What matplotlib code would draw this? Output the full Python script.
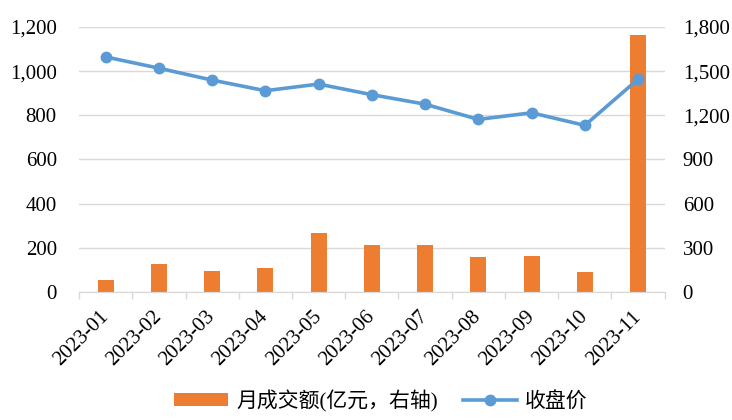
import numpy as np
import matplotlib.pyplot as plt
from matplotlib.ticker import FuncFormatter, FixedLocator

plt.rcParams['font.family'] = ['Liberation Serif', 'Noto Sans CJK SC']

months = ['2023-01', '2023-02', '2023-03', '2023-04', '2023-05', '2023-06',
          '2023-07', '2023-08', '2023-09', '2023-10', '2023-11']
turnover = [79, 192, 142, 163, 402, 321, 316, 239, 246, 135, 1743]  # right axis
close = [1064, 1013, 959, 911, 941, 893, 850, 781, 811, 754, 963]  # left axis

bar_color = '#ED7D31'
line_color = '#5B9BD5'
grid_color = '#D9D9D9'

fig = plt.figure(figsize=(7.32, 4.2), dpi=100)
ax = fig.add_axes([0.108, 0.305, 0.800, 0.631])
ax2 = ax.twinx()

x = np.arange(len(months))
bars = ax2.bar(x, turnover, width=0.3, color=bar_color, zorder=2)
line, = ax.plot(x, close, color=line_color, lw=2.6, marker='o', markersize=7.5, zorder=3)
ax.set_zorder(ax2.get_zorder() + 1)
ax.patch.set_visible(False)

ax.set_ylim(0, 1200)
ax.set_yticks(np.arange(0, 1201, 200))
ax2.set_ylim(0, 1800)
ax2.set_yticks(np.arange(0, 1801, 300))
fmt = FuncFormatter(lambda v, p: f'{int(v):,}')
ax.yaxis.set_major_formatter(fmt)
ax2.yaxis.set_major_formatter(fmt)

ax.set_xlim(-0.5, len(months) - 0.5)
ax.set_xticks(x)
ax.set_xticklabels(months, rotation=45, ha='right', va='center',
                   rotation_mode='anchor', fontsize=15)
ax.xaxis.set_minor_locator(FixedLocator(np.arange(-0.5, len(months), 1)))
ax.tick_params(axis='x', which='major', length=0, pad=16)
ax.tick_params(axis='x', which='minor', length=5, color=grid_color, width=1)

ax.tick_params(axis='y', length=0, labelsize=15, pad=16)
ax2.tick_params(axis='y', length=0, labelsize=15, pad=13)

ax2.grid(axis='y', color=grid_color, lw=1)
ax2.set_axisbelow(True)
for a in (ax, ax2):
    for s in ('top', 'left', 'right'):
        a.spines[s].set_visible(False)
    a.spines['bottom'].set_color(grid_color)

fig.legend([bars, line], ['月成交额(亿元，右轴)', '收盘价'], loc='center',
           bbox_to_anchor=(0.52, 0.045), ncol=2, frameon=False, fontsize=15,
           handlelength=2.6, handleheight=0.6, columnspacing=1.2, handletextpad=0.4)

fig.savefig('out.png', dpi=100)
